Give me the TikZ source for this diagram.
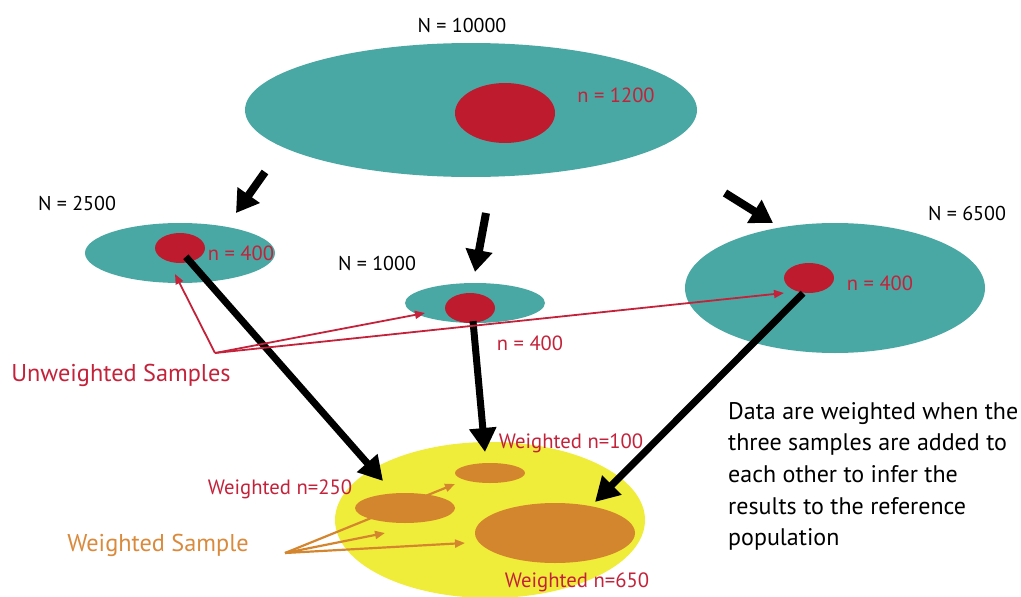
\documentclass[tikz,border=0pt]{standalone}
\usepackage{fontspec}
\setmainfont{PT Sans}
\usetikzlibrary{arrows.meta,shapes.geometric}
\definecolor{teal1}{HTML}{4AA8A4}
\definecolor{redfill}{HTML}{BE1B2F}
\definecolor{redtext}{HTML}{C4223A}
\definecolor{yellow1}{HTML}{F0EC3A}
\definecolor{orange1}{HTML}{D4862F}
\definecolor{orangetext}{HTML}{D98A3C}
\pgfdeclarelayer{back}
\pgfdeclarelayer{mid}
\pgfsetlayers{back,mid,main}
\tikzset{
  ell/.style args={#1/#2}{ellipse, inner sep=0pt, draw=none, minimum width=#1pt, minimum height=#2pt},
  pop/.style={fill=teal1},
  smp/.style={fill=redfill},
  wsmp/.style={fill=orange1},
  bigN/.style={font=\fontsize{20}{23}\selectfont, text=black},
  smalln/.style={font=\fontsize{20.5}{23}\selectfont, text=redtext},
  wlab/.style={font=\fontsize{20.7}{23}\selectfont, text=redtext},
  biglab/.style={font=\fontsize{24.3}{28}\selectfont},
  bigarrow/.style={line width=8pt, -{Triangle[length=22pt,width=26pt]}},
  longarrow/.style={line width=7pt, -{Triangle[length=24pt,width=26pt]}},
  redarrow/.style={draw=redtext, line width=1.8pt, -{Triangle[length=10pt,width=8pt]}},
  orarrow/.style={draw=orange1, line width=2.2pt, -{Triangle[length=10pt,width=8pt]}},
}
\begin{document}
\begin{tikzpicture}[x=1pt,y=-1pt]
\useasboundingbox (0,0) rectangle (1021,597);
% populations
\node[ell=452/134, pop] (P) at (471,110) {};
\node[ell=100/60, smp] (p) at (505,113) {};
\node[ell=190/60, pop] (A) at (180,253) {};
\node[ell=50/30, smp] (a) at (180,248) {};
\node[ell=140/40, pop] (B) at (475,303) {};
\node[ell=50/30, smp] (b) at (470,308) {};
\node[ell=300/130, pop] (C) at (835,288) {};
\node[ell=50/30, smp] (c) at (809,278) {};
% weighted population
\begin{pgfonlayer}{back}
\node[ell=310/156, fill=yellow1] (W) at (490,520) {};
\end{pgfonlayer}
\node[ell=70/20, wsmp] (w100) at (490,473) {};
\node[ell=100/30, wsmp] (w250) at (405,508) {};
\node[ell=160/60, wsmp] (w650) at (555,533) {};
% labels
\node[bigN] (tN) at (462,25) {N = 10000};
\node[smalln] (tn) at (616,95) {n = 1200};
\node[bigN] (tA) at (77,203) {N = 2500};
\node[smalln] (ta) at (241,253) {n = 400};
\node[bigN] (tB) at (377,263) {N = 1000};
\node[smalln] (tb) at (530,343) {n = 400};
\node[bigN] (tC) at (967,213) {N = 6500};
\node[smalln] (tc) at (880,283) {n = 400};
\node[wlab] (l100) at (571,443) {Weighted n=100};
\node[wlab] (l250) at (280,489) {Weighted n=250};
\node[wlab] (l650) at (577,582) {Weighted n=650};
\node[biglab, text=redtext] (uw) at (121,375) {Unweighted Samples};
\node[biglab, text=orangetext] (ws) at (158,545) {Weighted Sample};
\node[font=\fontsize{24}{31.7}\selectfont, align=left, anchor=north west, inner sep=0pt] (note) at (728,402)
  {Data are weighted when the\\three samples are added to\\each other to infer the\\results to the reference\\population};
% short black arrows
\coordinate (s1) at (265,172); \coordinate (e1) at (236,213);
\coordinate (s2) at (486,213); \coordinate (e2) at (475,272);
\coordinate (s3) at (725,193); \coordinate (e3) at (773,223);
\draw[bigarrow] (s1) -- (e1);
\draw[bigarrow] (s2) -- (e2);
\draw[bigarrow] (s3) -- (e3);
% long black arrows
\coordinate (f1) at (383,481);
\coordinate (f2) at (485,452);
\coordinate (f3) at (595,502);
\draw[longarrow] (a.south east) ++(-12,-2) -- (f1);
\draw[longarrow] (b.south) ++(3,-2) -- (f2);
\draw[longarrow] (c.south) ++(-6,0) -- (f3);
% red arrows
\coordinate (ru) at (215,353);
\coordinate (rt1) at (175,274);
\coordinate (rt2) at (425,313);
\coordinate (rt3) at (784,293);
\draw[redarrow] (ru) -- (rt1);
\draw[redarrow] (ru) -- (rt2);
\draw[redarrow] (ru) -- (rt3);
% orange arrows
\coordinate (ou) at (285,553);
\coordinate (ot1) at (455,484);
\coordinate (ot2) at (385,533);
\coordinate (ot3) at (465,543);
\begin{pgfonlayer}{mid}
\draw[orarrow] (ou) -- (ot1);
\draw[orarrow] (ou) -- (ot2);
\draw[orarrow] (ou) -- (ot3);
\end{pgfonlayer}
\end{tikzpicture}
\end{document}
